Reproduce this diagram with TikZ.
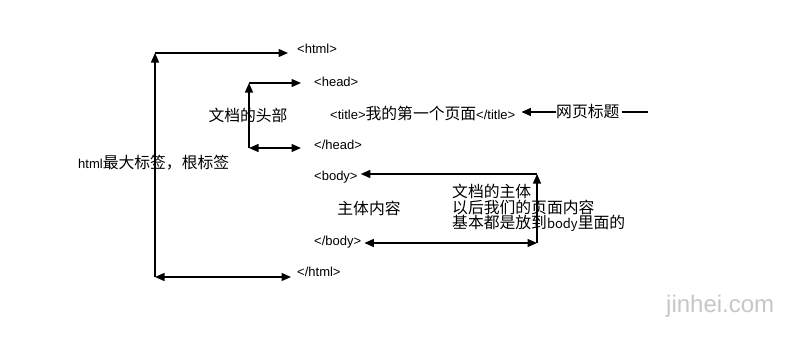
\documentclass[tikz,border=0pt]{standalone}
\usepackage{fontspec}
\setmainfont{Liberation Sans}
\newfontfamily\cjk{Noto Sans CJK SC}
\usetikzlibrary{arrows.meta}
\newcommand\zh[1]{{\cjk\fontsize{15.8}{15.5}\selectfont #1}}
\newcommand\lt[1]{{\fontsize{13}{15.5}\selectfont #1}}
\begin{document}
\begin{tikzpicture}[x=1pt,y=-1pt,
  tag/.style={font=\fontsize{13}{15}\selectfont, inner sep=0pt, anchor=west},
  lbl/.style={inner sep=0pt},
  conn/.style={line width=1.3pt},
  tri/.tip={Triangle[length=9.5pt,width=8pt]}]
\useasboundingbox[fill=white] (0,0) rectangle (794,340);
% tag texts
\node[tag] (html)  at (297,49)  {<html>};
\node[tag] (head)  at (314,82)  {<head>};
\node[tag] (title) at (330,113) {<title>\zh{我的第一个页面}</title>};
\node[tag] (ehead) at (314,145) {</head>};
\node[tag] (body)  at (314,177) {<body>};
\node[tag] (ebody) at (314,242) {</body>};
\node[tag] (ehtml) at (297,272) {</html>};
% labels
\node[lbl] (hl) at (248,115) {\zh{文档的头部}};
\node[lbl,anchor=west] (rl) at (78,163) {\lt{html}\zh{最大标签，根标签}};
\node[lbl] (bl) at (369,208) {\zh{主体内容}};
\node[lbl,anchor=west,align=left,font=\cjk\fontsize{15.8}{15.5}\selectfont] (bn) at (452,208)
  {文档的主体\\以后我们的页面内容\\基本都是放到\lt{body}里面的};
\node[lbl,anchor=west] (wl) at (556,112) {\zh{网页标题}};
\node[lbl,anchor=west,text=black!22,font=\fontsize{24}{26}\selectfont] (wm) at (666,306) {jinhei.com};
% corners
\coordinate (A1) at (155,53);
\coordinate (A2) at (155,277);
\coordinate (B1) at (249,83);
\coordinate (B2) at (249,148);
\coordinate (C1) at (537,174);
\coordinate (C2) at (537,243);
\coordinate (W)  at (648,112);
% connectors
\draw[conn,-tri] (A2) -- (A1);
\draw[conn,-tri] (A1) -- ([xshift=-9pt]html.west |- A1);
\draw[conn,tri-tri] (A2) -- ([xshift=-6pt]ehtml.west |- A2);
\draw[conn,-tri] (B2) -- (B1);
\draw[conn,-tri] (B1) -- ([xshift=-13pt]head.west |- B1);
\draw[conn,tri-tri] (B2) -- ([xshift=-13pt]ehead.west |- B2);
\draw[conn,tri-] ([xshift=3pt]body.east |- C1) -- (C1);
\draw[conn,-tri] (C2) -- (C1);
\draw[conn,tri-tri] ([xshift=3pt]ebody.east |- C2) -- (C2);
\draw[conn,-tri] (wl.west) -- ([xshift=6pt]title.east |- wl.west);
\draw[conn] ([xshift=2pt]wl.east) -- (W);
\end{tikzpicture}
\end{document}
